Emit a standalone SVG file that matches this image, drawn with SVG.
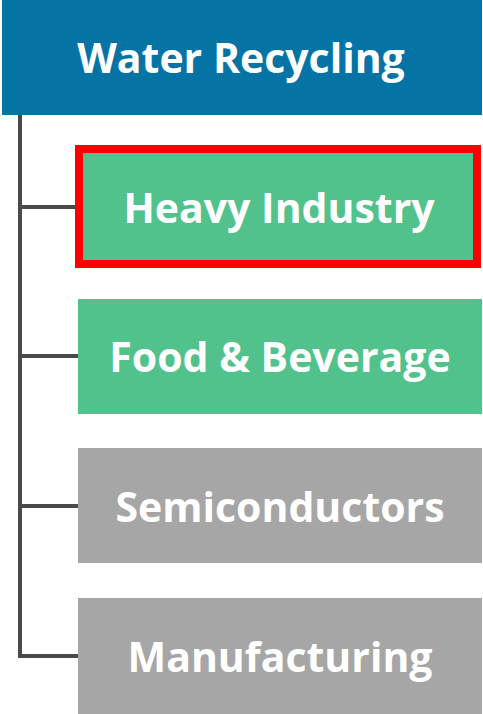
<svg xmlns="http://www.w3.org/2000/svg" width="483" height="714" viewBox="0 0 483 714">
<style>
.lbl{font-family:"Open Sans","Liberation Sans",sans-serif;font-weight:700;fill:#ffffff;text-anchor:middle;dominant-baseline:central;font-size:41px}
.conn{fill:none;stroke:#4a4a4a;stroke-width:4}
</style>
<rect width="483" height="714" fill="#ffffff"/>
<g id="connectors">
<path class="conn" d="M20,115 V658"/>
<path class="conn" d="M20,207 H79"/>
<path class="conn" d="M20,356 H79"/>
<path class="conn" d="M20,506 H79"/>
<path class="conn" d="M20,656 H79"/>
</g>
<g id="water-recycling">
<rect x="2" y="0" width="480" height="115" fill="#0673a5"/>
<text class="lbl" x="241" y="57">Water Recycling</text>
</g>
<g id="heavy-industry">
<rect x="79" y="149" width="398" height="115" fill="#52c28c" stroke="#ff0000" stroke-width="8"/>
<text class="lbl" x="279" y="207">Heavy Industry</text>
</g>
<g id="food-beverage">
<rect x="78" y="299" width="404" height="115" fill="#52c28c"/>
<text class="lbl" x="280" y="356">Food &amp; Beverage</text>
</g>
<g id="semiconductors">
<rect x="78" y="448" width="404" height="115" fill="#a6a6a6"/>
<text class="lbl" x="280" y="506">Semiconductors</text>
</g>
<g id="manufacturing">
<rect x="78" y="598" width="404" height="116" fill="#a6a6a6"/>
<text class="lbl" x="280" y="656">Manufacturing</text>
</g>
</svg>
